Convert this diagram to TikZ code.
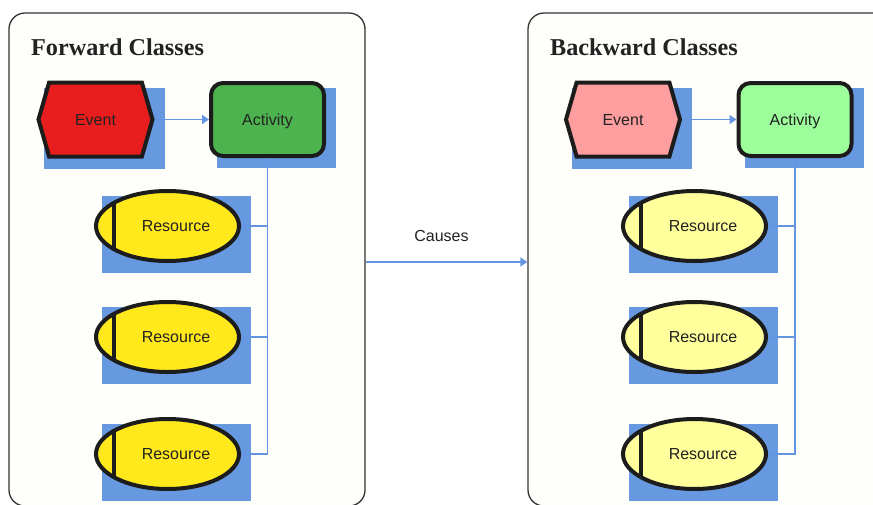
\documentclass[tikz,border=0pt]{standalone}
\usepackage{fontspec}
\setmainfont{Liberation Sans}
\newfontfamily\titlefont{Liberation Serif}
\usetikzlibrary{shapes.symbols,shapes.geometric,arrows.meta}
\definecolor{shblue}{HTML}{6699E0}
\definecolor{lnblue}{HTML}{6495E2}
\definecolor{bord}{HTML}{1C1C1C}
\definecolor{txt}{HTML}{222222}
\definecolor{evred}{HTML}{E81E1E}
\definecolor{acgreen}{HTML}{4DB34F}
\definecolor{rsyellow}{HTML}{FFE81C}
\definecolor{evpink}{HTML}{FF9E9E}
\definecolor{aclight}{HTML}{9CFF9C}
\definecolor{rslight}{HTML}{FFFF9C}
\definecolor{contfill}{HTML}{FEFEFA}
\pgfdeclarelayer{cont}
\pgfdeclarelayer{shadows}
\pgfsetlayers{cont,shadows,main}
\newcommand\nodeshadow[1]{%
  \begin{pgfonlayer}{shadows}
    \path (#1.west |- #1.north) coordinate (#1-tl) (#1.east |- #1.south) coordinate (#1-br);
    \fill[shblue] ([shift={(8,7)}]#1-tl) rectangle ([shift={(10,10)}]#1-br);
  \end{pgfonlayer}}
\begin{document}
\begin{tikzpicture}[x=1pt,y=-1pt,
  every node/.style={text=txt, font=\fontsize{16}{19}\selectfont, text height=11.5pt, text depth=0pt},
  container/.style={draw=bord!90, line width=1.3pt, fill=contfill, rounded corners=16pt, minimum width=356pt, minimum height=493pt, inner sep=0pt, text height=, text depth=},
  title/.style={anchor=base west, inner sep=0pt, font=\titlefont\bfseries\fontsize{24.2}{29}\selectfont},
  evnode/.style={signal, signal to=west and east, signal pointer angle=148, draw=bord, line width=4pt, minimum width=114pt, minimum height=74pt, inner sep=0pt},
  acnode/.style={rectangle, rounded corners=12pt, draw=bord, line width=4pt, minimum width=113pt, minimum height=73pt},
  rsnode/.style={ellipse, draw=bord, line width=4pt, minimum width=143pt, minimum height=70pt, inner sep=0pt,
    path picture={\draw[bord, line width=4pt] ([xshift=18pt]path picture bounding box.north west) -- ([xshift=18pt]path picture bounding box.south west);}},
  conn/.style={draw=lnblue, line width=1.3pt},
  arr/.style={conn, -{Triangle[length=7pt,width=9pt]}}
]
\useasboundingbox (0,0) rectangle (873,504);
\clip (0,0) rectangle (873,504);

% containers
\begin{pgfonlayer}{cont}
  \node[container] (lc) at (187,259.5) {};
  \node[container, minimum width=372pt] (rc) at (714,259.5) {};
\end{pgfonlayer}

\node[title] (lt) at (31,55) {Forward Classes};
\node[title] (rt) at (550,55) {Backward Classes};

% left group
\node[evnode, fill=evred] (e1) at (95.5,119.5) {Event};
\node[acnode, fill=acgreen] (a1) at (267.5,119.5) {Activity};
\node[rsnode, fill=rsyellow] (r1) at (167.5,226) {\hspace*{17pt}Resource};
\node[rsnode, fill=rsyellow] (r2) at (167.5,337) {\hspace*{17pt}Resource};
\node[rsnode, fill=rsyellow] (r3) at (167.5,454) {\hspace*{17pt}Resource};

% right group
\node[evnode, fill=evpink] (e2) at (623,119.5) {Event};
\node[acnode, fill=aclight] (a2) at (795,119.5) {Activity};
\node[rsnode, fill=rslight] (r4) at (694.5,226) {\hspace*{17pt}Resource};
\node[rsnode, fill=rslight] (r5) at (694.5,337) {\hspace*{17pt}Resource};
\node[rsnode, fill=rslight] (r6) at (694.5,454) {\hspace*{17pt}Resource};

\foreach \n in {e1,a1,r1,r2,r3,e2,a2,r4,r5,r6} {\nodeshadow{\n}}

% connectors
\draw[arr] (e1.east) -- (a1.west);
\draw[arr] (e2.east) -- (a2.west);
\draw[conn] (a1.south) |- (r3.east);
\draw[conn] (r1.east) -- (r1.east -| a1.south);
\draw[conn] (r2.east) -- (r2.east -| a1.south);
\draw[conn] (a2.south) |- (r6.east);
\draw[conn] (r4.east) -- (r4.east -| a2.south);
\draw[conn] (r5.east) -- (r5.east -| a2.south);

\coordinate (cy) at (0,262);
\draw[arr] (lc.east |- cy) -- (rc.west |- cy);
\node (causes) at (441.5,236) {Causes};
\end{tikzpicture}
\end{document}
